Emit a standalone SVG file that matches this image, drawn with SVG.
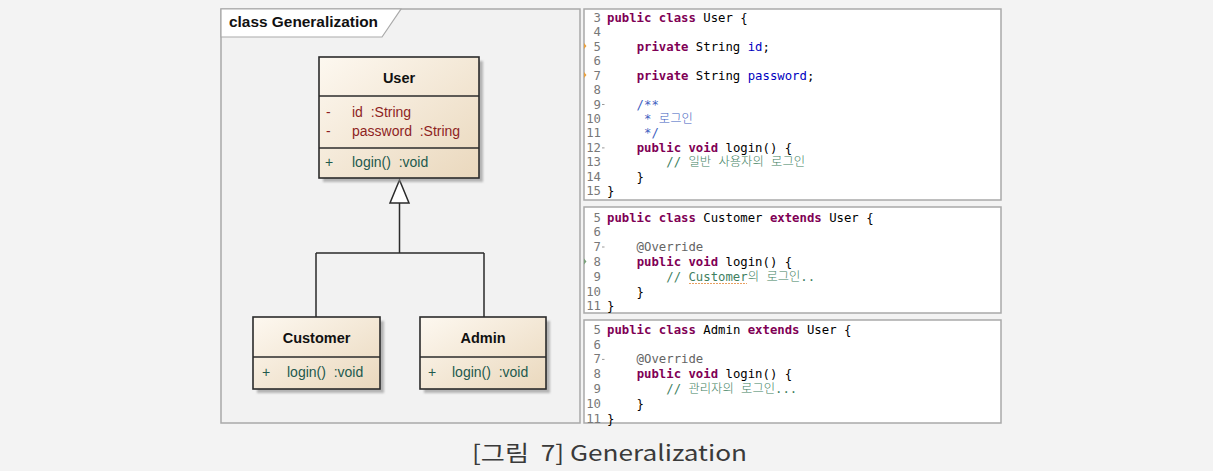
<svg xmlns="http://www.w3.org/2000/svg" width="1213" height="471" viewBox="0 0 1213 471">
  <style>
    .frame { fill: #f2f2f2; stroke: #a9a9a9; stroke-width: 1.5; }
    .panel { fill: #ffffff; stroke: #a9a9a9; stroke-width: 1.5; }
    .cls { fill: url(#classFill); stroke: #2b2b2b; stroke-width: 1.6; }
    .div { stroke: #2b2b2b; stroke-width: 1.4; }
    .shadow { fill: #8c8c8c; opacity: 0.6; filter: url(#soft); }
    .title { font-family: "Liberation Sans", Arial, sans-serif; font-size: 15px; font-weight: bold; fill: #111; }
    .cname { font-family: "Liberation Sans", Arial, sans-serif; font-size: 14.5px; font-weight: bold; fill: #111; text-anchor: middle; }
    .attr { font-family: "Liberation Sans", Arial, sans-serif; font-size: 14px; fill: #8e1f1f; white-space: pre; }
    .op { font-family: "Liberation Sans", Arial, sans-serif; font-size: 14px; fill: #22594d; white-space: pre; }
    .edge { fill: none; stroke: #2b2b2b; stroke-width: 1.5; }
    .code { font-family: "DejaVu Sans Mono", "Noto Sans CJK KR", monospace; font-size: 12.3px; fill: #000; white-space: pre; }
    .ln { font-family: "DejaVu Sans Mono", monospace; font-size: 12.3px; fill: #787878; text-anchor: end; }
    .kw { fill: #7f0055; font-weight: bold; }
    .fld { fill: #0000c0; }
    .cmt { fill: #3f7f5f; }
    .doc { fill: #3f5fbf; }
    .ann { fill: #646464; }
    .ko { font-weight: 300; }
    .fold { stroke: #9a9a9a; stroke-width: 1; }
    .caption { font-family: "Noto Sans CJK KR", "Noto Sans", sans-serif; font-size: 22px; fill: #3a3a3a; text-anchor: middle; white-space: pre; }
  </style>
  <defs>
    <linearGradient id="classFill" x1="0" y1="0" x2="1" y2="1">
      <stop offset="0" stop-color="#fdf8f0"/>
      <stop offset="1" stop-color="#ead8bd"/>
    </linearGradient>
    <filter id="soft" x="-10%" y="-10%" width="120%" height="120%">
      <feGaussianBlur stdDeviation="1.2"/>
    </filter>
  </defs>

  <rect x="0" y="0" width="1213" height="471" fill="#f3f3f3"/>

  <!-- UML class diagram frame -->
  <g id="diagram-frame">
    <rect class="frame" x="221" y="9" width="359" height="414"/>
    <path d="M221 9 H401 L382 37 H221 Z" fill="#ffffff" stroke="#a9a9a9" stroke-width="1.2"/>
    <text class="title" x="229" y="27" textLength="149" lengthAdjust="spacingAndGlyphs">class Generalization</text>
  </g>

  <!-- generalization connectors -->
  <g id="connectors">
    <path class="edge" d="M399.5 203 V253 M316 253 H484 M316 253 V317 M484 253 V317"/>
    <polygon points="399.5,180 390,203 409,203" fill="#ffffff" stroke="#2b2b2b" stroke-width="1.5"/>
  </g>

  <g id="User">
    <rect class="shadow" x="323" y="61" width="160" height="121"/>
    <rect class="cls" x="319" y="57" width="160" height="121"/>
    <line class="div" x1="319" y1="96" x2="479" y2="96"/>
    <line class="div" x1="319" y1="148" x2="479" y2="148"/>
    <text class="cname" x="399" y="83">User</text>
    <text class="attr" x="326" y="117">-</text>
    <text class="attr" x="352" y="117" xml:space="preserve">id  :String</text>
    <text class="attr" x="326" y="136">-</text>
    <text class="attr" x="352" y="136" xml:space="preserve">password  :String</text>
    <text class="op" x="325" y="167">+</text>
    <text class="op" x="352" y="167" xml:space="preserve">login()  :void</text>
  </g>

  <g id="Customer">
    <rect class="shadow" x="257" y="321" width="127" height="72"/>
    <rect class="cls" x="253" y="317" width="127" height="72"/>
    <line class="div" x1="253" y1="357" x2="380" y2="357"/>
    <text class="cname" x="316.5" y="343">Customer</text>
    <text class="op" x="262" y="377">+</text>
    <text class="op" x="287" y="377" xml:space="preserve">login()  :void</text>
  </g>

  <g id="Admin">
    <rect class="shadow" x="424" y="321" width="126" height="72"/>
    <rect class="cls" x="420" y="317" width="126" height="72"/>
    <line class="div" x1="420" y1="357" x2="546" y2="357"/>
    <text class="cname" x="483" y="343">Admin</text>
    <text class="op" x="428" y="377">+</text>
    <text class="op" x="452" y="377" xml:space="preserve">login()  :void</text>
  </g>

  <!-- source listing: User.java -->
  <g id="code-user">
    <rect class="panel" x="584" y="9" width="417" height="191"/>
    <g class="ln">
      <text x="601" y="21.8">3</text>
      <text x="601" y="36.3">4</text>
      <text x="601" y="50.7">5</text>
      <text x="601" y="65.2">6</text>
      <text x="601" y="79.6">7</text>
      <text x="601" y="94.1">8</text>
      <text x="601" y="108.5">9</text>
      <text x="601" y="123">10</text>
      <text x="601" y="137.4">11</text>
      <text x="601" y="151.9">12</text>
      <text x="601" y="166.3">13</text>
      <text x="601" y="180.8">14</text>
      <text x="601" y="195.2">15</text>
    </g>
    <path d="M584 43 l2.5 3 -2.5 3 Z M584 72 l2.5 3 -2.5 3 Z" fill="#e8a040"/>
    <line class="fold" x1="602" y1="104.5" x2="604.5" y2="104.5"/>
    <line class="fold" x1="602" y1="147.9" x2="604.5" y2="147.9"/>
    <g class="code">
      <text x="607" y="21.8" xml:space="preserve"><tspan class="kw">public</tspan> <tspan class="kw">class</tspan> User {</text>
      <text x="607" y="50.7" xml:space="preserve">    <tspan class="kw">private</tspan> String <tspan class="fld">id</tspan>;</text>
      <text x="607" y="79.6" xml:space="preserve">    <tspan class="kw">private</tspan> String <tspan class="fld">password</tspan>;</text>
      <text x="607" y="108.5" class="doc" xml:space="preserve">    /**</text>
      <text x="607" y="123" class="doc" xml:space="preserve">     * <tspan class="ko">로그인</tspan></text>
      <text x="607" y="137.4" class="doc" xml:space="preserve">     */</text>
      <text x="607" y="151.9" xml:space="preserve">    <tspan class="kw">public</tspan> <tspan class="kw">void</tspan> login() {</text>
      <text x="607" y="166.3" class="cmt" xml:space="preserve">        // <tspan class="ko">일반 사용자의 로그인</tspan></text>
      <text x="607" y="180.8" xml:space="preserve">    }</text>
      <text x="607" y="195.2">}</text>
    </g>
  </g>

  <!-- source listing: Customer.java -->
  <g id="code-customer">
    <rect class="panel" x="584" y="207" width="417" height="106"/>
    <g class="ln">
      <text x="601" y="221.5">5</text>
      <text x="601" y="236.3">6</text>
      <text x="601" y="251.1">7</text>
      <text x="601" y="265.9">8</text>
      <text x="601" y="280.7">9</text>
      <text x="601" y="295.5">10</text>
      <text x="601" y="310.3">11</text>
    </g>
    <line class="fold" x1="602" y1="247" x2="604.5" y2="247"/>
    <path d="M584 258.5 l2.5 3 -2.5 3 Z" fill="#7aa07a"/>
    <g class="code">
      <text x="607" y="221.5" xml:space="preserve"><tspan class="kw">public</tspan> <tspan class="kw">class</tspan> Customer <tspan class="kw">extends</tspan> User {</text>
      <text x="607" y="251.1" class="ann" xml:space="preserve">    @Override</text>
      <text x="607" y="265.9" xml:space="preserve">    <tspan class="kw">public</tspan> <tspan class="kw">void</tspan> login() {</text>
      <text x="607" y="280.7" class="cmt" xml:space="preserve">        // Customer<tspan class="ko">의 로그인</tspan>..</text>
      <text x="607" y="295.5" xml:space="preserve">    }</text>
      <text x="607" y="310.3">}</text>
    </g>
    <line x1="689" y1="283.5" x2="747" y2="283.5" stroke="#e8a060" stroke-width="1" stroke-dasharray="2 1"/>
  </g>

  <!-- source listing: Admin.java -->
  <g id="code-admin">
    <rect class="panel" x="584" y="320" width="417" height="103"/>
    <g class="ln">
      <text x="601" y="333.8">5</text>
      <text x="601" y="348.6">6</text>
      <text x="601" y="363.4">7</text>
      <text x="601" y="378.2">8</text>
      <text x="601" y="393">9</text>
      <text x="601" y="407.8">10</text>
      <text x="601" y="422.6">11</text>
    </g>
    <line class="fold" x1="602" y1="359.4" x2="604.5" y2="359.4"/>
    <g class="code">
      <text x="607" y="333.8" xml:space="preserve"><tspan class="kw">public</tspan> <tspan class="kw">class</tspan> Admin <tspan class="kw">extends</tspan> User {</text>
      <text x="607" y="363.4" class="ann" xml:space="preserve">    @Override</text>
      <text x="607" y="378.2" xml:space="preserve">    <tspan class="kw">public</tspan> <tspan class="kw">void</tspan> login() {</text>
      <text x="607" y="393" class="cmt" xml:space="preserve">        // <tspan class="ko">관리자의 로그인</tspan>...</text>
      <text x="607" y="407.8" xml:space="preserve">    }</text>
      <text x="607" y="422.6">}</text>
    </g>
  </g>

  <text class="caption" x="609.5" y="461" textLength="275" lengthAdjust="spacingAndGlyphs" xml:space="preserve">[그림  7] Generalization</text>
</svg>
